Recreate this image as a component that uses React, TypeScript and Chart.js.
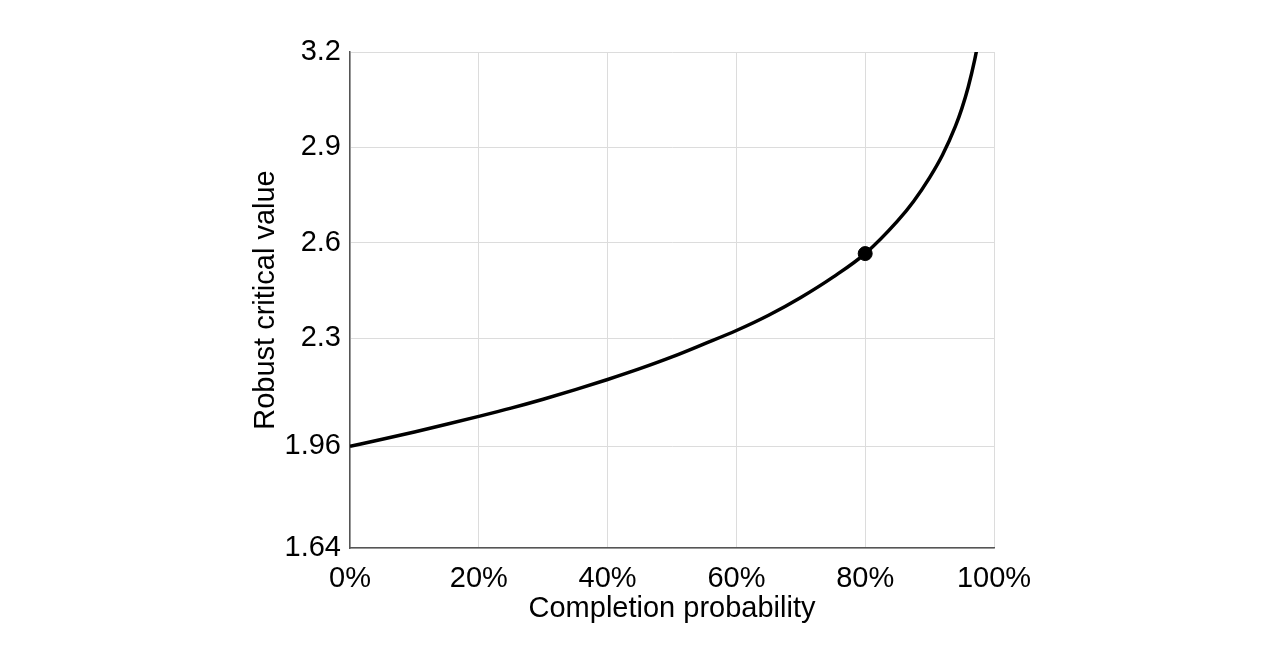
import React, { useEffect, useRef } from "react";
import { Chart, registerables } from "chart.js";

Chart.register(...registerables);

// Completion probability (%) and robust critical value
const completionPct = [0, 5, 10, 15, 20, 25, 30, 35, 40, 45, 50, 55, 60, 65, 70, 75, 80, 85, 87.5, 90, 92, 94, 95, 96, 97, 97.5];
const criticalValue = [1.96, 1.982, 2.005, 2.029, 2.054, 2.08, 2.108, 2.138, 2.17, 2.204, 2.241, 2.282, 2.324, 2.372, 2.428, 2.492, 2.566, 2.668, 2.73, 2.805, 2.876, 2.966, 3.022, 3.09, 3.175, 3.227];

const markerX = [80];
const markerY = [2.566];

const yTickValues = [1.64, 1.96, 2.3, 2.6, 2.9, 3.2];
const yTickLabels = ["1.64", "1.96", "2.3", "2.6", "2.9", "3.2"];
const xTickValues = [0, 20, 40, 60, 80, 100];
const xTickLabels = ["0%", "20%", "40%", "60%", "80%", "100%"];

const FONT = "'Liberation Sans', Arial, Helvetica, sans-serif";
const FONT_SIZE = 29;

export default function App() {
  const ref = useRef<HTMLCanvasElement | null>(null);

  useEffect(() => {
    if (!ref.current) return;
    const curve = completionPct.map((x, i) => ({ x, y: criticalValue[i] }));
    const marker = markerX.map((x, i) => ({ x, y: markerY[i] }));
    const chart = new Chart(ref.current, {
      type: "line",
      data: {
        datasets: [
          {
            data: marker,
            showLine: false,
            pointRadius: 7,
            pointHoverRadius: 7,
            pointBackgroundColor: "#000",
            pointBorderColor: "#000",
            order: 0,
          },
          {
            data: curve,
            borderColor: "#000",
            borderWidth: 3.5,
            pointRadius: 0,
            cubicInterpolationMode: "monotone",
            fill: false,
            order: 1,
          },
        ],
      },
      options: {
        responsive: false,
        animation: false,
        layout: { padding: { left: 245, right: 286, top: 52, bottom: 40 } },
        plugins: { legend: { display: false }, tooltip: { enabled: false } },
        scales: {
          x: {
            type: "linear",
            min: 0,
            max: 100,
            afterBuildTicks: (s: any) => {
              s.ticks = xTickValues.map((v) => ({ value: v }));
            },
            afterFit: (s: any) => {
              s.height = 82;
            },
            ticks: {
              font: { family: FONT, size: FONT_SIZE },
              color: "#000",
              padding: 14,
              maxRotation: 0,
              callback: (v: any) => {
                const i = xTickValues.indexOf(Number(v));
                return i >= 0 ? xTickLabels[i] : "";
              },
            },
            grid: { color: "#dcdcdc", lineWidth: 1, drawTicks: false },
            border: { color: "#555", width: 1.5 },
            title: {
              display: true,
              text: "Completion probability",
              font: { family: FONT, size: FONT_SIZE },
              color: "#000",
              padding: 4,
            },
          },
          y: {
            type: "linear",
            min: 1.64,
            max: 3.2,
            afterBuildTicks: (s: any) => {
              s.ticks = yTickValues.map((v) => ({ value: v }));
            },
            afterFit: (s: any) => {
              s.width = 105;
            },
            ticks: {
              font: { family: FONT, size: FONT_SIZE },
              color: "#000",
              padding: 9,
              callback: (v: any) => {
                const i = yTickValues.findIndex((t) => Math.abs(t - Number(v)) < 1e-6);
                return i >= 0 ? yTickLabels[i] : "";
              },
            },
            grid: { color: "#dcdcdc", lineWidth: 1, drawTicks: false },
            border: { color: "#555", width: 1.5 },
            title: {
              display: true,
              text: "Robust critical value",
              font: { family: FONT, size: FONT_SIZE },
              color: "#000",
              padding: 4,
            },
          },
        },
      },
    });
    return () => chart.destroy();
  }, []);

  return (
    <div style={{ position: "fixed", left: 0, top: 0, width: 1280, height: 670, background: "#fff" }}>
      <canvas ref={ref} width={1280} height={670} />
    </div>
  );
}
